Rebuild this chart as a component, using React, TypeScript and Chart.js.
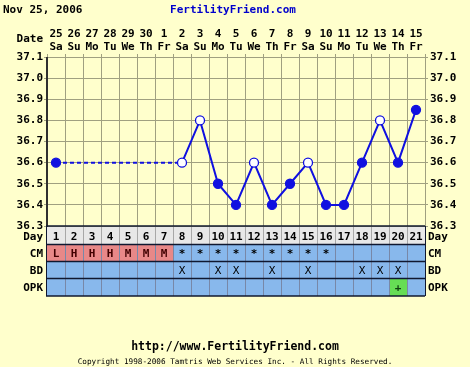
import React, { useEffect, useRef } from "react";
import { Chart, registerables } from "chart.js";

Chart.register(...registerables);

const dates = ["25","26","27","28","29","30","1","2","3","4","5","6","7","8","9","10","11","12","13","14","15"];
const weekdays = ["Sa","Su","Mo","Tu","We","Th","Fr","Sa","Su","Mo","Tu","We","Th","Fr","Sa","Su","Mo","Tu","We","Th","Fr"];
const cycleDays = ["1","2","3","4","5","6","7","8","9","10","11","12","13","14","15","16","17","18","19","20","21"];
const temps: (number | null)[] = [36.6, null, null, null, null, null, null, 36.6, 36.8, 36.5, 36.4, 36.6, 36.4, 36.5, 36.6, 36.4, 36.4, 36.6, 36.8, 36.6, 36.85];
const openPoints = [false, false, false, false, false, false, false, true, true, false, false, true, false, false, true, false, false, false, true, false, false];
const cm = ["L","H","H","H","M","M","M","*","*","*","*","*","*","*","*","*","","","","",""];
const bd = ["","","","","","","","X","","X","X","","X","","X","","","X","X","X",""];
const opk = ["","","","","","","","","","","","","","","","","","","","+",""];
const yMin = 36.3;
const yMax = 37.1;

const FONT = '"DejaVu Sans Mono", monospace';
const BG = "#ffffcc";
const BLUE = "#1010e0";

const drawPlugin = {
  id: "ffDraw",
  beforeDraw(chart: any) {
    const ctx = chart.ctx;
    ctx.save();
    ctx.fillStyle = BG;
    ctx.fillRect(0, 0, chart.width, chart.height);
    ctx.restore();
  },
  afterDraw(chart: any) {
    const ctx = chart.ctx;
    const { left, right, bottom, top } = chart.chartArea;
    const xs = chart.scales.x;
    const n = cycleDays.length;
    const colW = (right - left) / n;
    ctx.save();

    // header texts
    ctx.textBaseline = "middle";
    ctx.fillStyle = "#000";
    ctx.font = `bold 11px ${FONT}`;
    ctx.textAlign = "left";
    ctx.fillText("Nov 25, 2006", 3, 10);
    ctx.fillStyle = "#0000cc";
    ctx.textAlign = "center";
    ctx.fillText("FertilityFriend.com", 233, 10);
    ctx.fillStyle = "#000";
    ctx.textAlign = "right";
    ctx.fillText("Date", left - 4, 39);

    // left border
    ctx.strokeStyle = "#303030";
    ctx.lineWidth = 1;
    ctx.beginPath();
    ctx.moveTo(left - 0.5, top);
    ctx.lineTo(left - 0.5, bottom);
    ctx.stroke();

    // table
    const rows = [
      { label: "Day", y: bottom + 1, h: 18, vals: cycleDays },
      { label: "CM", y: bottom + 19, h: 17, vals: cm },
      { label: "BD", y: bottom + 36, h: 17, vals: bd },
      { label: "OPK", y: bottom + 53, h: 17, vals: opk },
    ];
    rows.forEach((row, ri) => {
      for (let i = 0; i < n; i++) {
        const cx = xs.getPixelForValue(i);
        const x0 = cx - colW / 2;
        let fill = "#88b8ec";
        if (ri === 0) fill = "#e8e8e8";
        if (ri === 1 && ["L", "H", "M"].includes(row.vals[i])) fill = "#e88888";
        if (ri === 3 && row.vals[i] === "+") fill = "#66dd55";
        ctx.fillStyle = fill;
        ctx.fillRect(x0, row.y, colW, row.h);
      }
      ctx.strokeStyle = ri === 0 ? "#a8a8a8" : "#7888a8";
      ctx.lineWidth = 1;
      for (let i = 1; i < n; i++) {
        const xx = Math.round(left + i * colW) + 0.5;
        ctx.beginPath();
        ctx.moveTo(xx, row.y);
        ctx.lineTo(xx, row.y + row.h);
        ctx.stroke();
      }
      ctx.textBaseline = "middle";
      for (let i = 0; i < n; i++) {
        const v = row.vals[i];
        if (!v) continue;
        const cx = xs.getPixelForValue(i);
        ctx.fillStyle = ri === 1 && v !== "*" ? "#400000" : ri === 3 ? "#104010" : "#000";
        ctx.textAlign = "center";
        if (ri === 2) ctx.font = `11px ${FONT}`;
        else ctx.font = `bold 11px ${FONT}`;
        ctx.fillText(v, cx, row.y + row.h / 2 + 1);
      }
      ctx.font = `bold 11px ${FONT}`;
      ctx.fillStyle = "#000";
      ctx.textAlign = "right";
      ctx.fillText(row.label, left - 4, row.y + row.h / 2 + 1);
      ctx.textAlign = "left";
      ctx.fillText(row.label, right + 3, row.y + row.h / 2 + 1);
    });
    ctx.strokeStyle = "#101830";
    ctx.lineWidth = 1.5;
    const lineYs = [bottom, bottom + 18.5, bottom + 35.5, bottom + 52.5, bottom + 70];
    lineYs.forEach((yy) => {
      ctx.beginPath();
      ctx.moveTo(left - 1, yy);
      ctx.lineTo(right, yy);
      ctx.stroke();
    });
    ctx.beginPath();
    ctx.lineWidth = 1;
    ctx.moveTo(left - 0.5, bottom);
    ctx.lineTo(left - 0.5, bottom + 70);
    ctx.moveTo(right + 0.5, bottom);
    ctx.lineTo(right + 0.5, bottom + 70);
    ctx.stroke();

    // footer
    ctx.fillStyle = "#000";
    ctx.textAlign = "center";
    ctx.font = `bold 11.5px ${FONT}`;
    ctx.fillText("http://www.FertilityFriend.com", 235, 347);
    ctx.font = `7.7px ${FONT}`;
    ctx.fillText("Copyright 1998-2006 Tamtris Web Services Inc. - All Rights Reserved.", 235, 362);
    ctx.restore();
  },
};

export default function App() {
  const ref = useRef<HTMLCanvasElement>(null);
  useEffect(() => {
    if (!ref.current) return;
    const labels = dates.map((d, i) => [d, weekdays[i]]);
    const tickFont = { family: FONT, size: 11, weight: "bold" as const };
    const chart = new Chart(ref.current, {
      type: "line",
      data: {
        labels,
        datasets: [
          {
            data: temps,
            yAxisID: "y",
            borderColor: BLUE,
            borderWidth: 2,
            spanGaps: true,
            pointRadius: 4.5,
            pointBorderWidth: 1.3,
            pointBorderColor: BLUE,
            pointBackgroundColor: openPoints.map((o) => (o ? "#ffffff" : BLUE)),
            segment: {
              borderDash: (c: any) => (temps[c.p0DataIndex] == null ? [4, 3] : undefined),
            },
          },
        ],
      },
      options: {
        responsive: false,
        animation: false,
        layout: { padding: { top: 0, bottom: 367 - 226, left: 0, right: 0 } },
        plugins: { legend: { display: false }, tooltip: { enabled: false }, title: { display: false } },
        scales: {
          x: {
            position: "top",
            offset: true,
            grid: { offset: true, color: "#a0a080", tickLength: 3, drawTicks: true },
            border: { color: "#a0a080" },
            ticks: { font: tickFont, color: "#000", padding: 0, maxRotation: 0, autoSkip: false },
            afterFit: (s: any) => { s.height = 57; },
          },
          y: {
            position: "left",
            min: yMin,
            max: yMax,
            grid: { color: "#a0a080", tickLength: 3 },
            border: { color: "#303030" },
            ticks: { stepSize: 0.1, font: tickFont, color: "#000", padding: 1, callback: (v: any) => Number(v).toFixed(1) },
            afterFit: (s: any) => { s.width = 47; },
          },
          y2: {
            position: "right",
            min: yMin,
            max: yMax,
            grid: { drawOnChartArea: false, color: "#a0a080", tickLength: 3 },
            border: { color: "#a0a080" },
            ticks: { stepSize: 0.1, font: tickFont, color: "#000", padding: 2, callback: (v: any) => Number(v).toFixed(1) },
            afterFit: (s: any) => { s.width = 45; },
          },
        },
      },
      plugins: [drawPlugin],
    });
    return () => chart.destroy();
  }, []);
  return (
    <div style={{ position: "absolute", left: 0, top: 0, width: 470, height: 367, background: BG }}>
      <canvas ref={ref} width={470} height={367} />
    </div>
  );
}
